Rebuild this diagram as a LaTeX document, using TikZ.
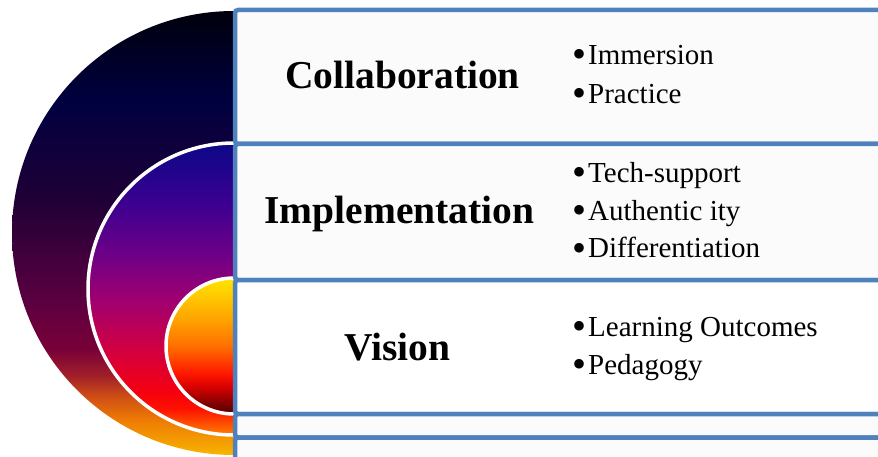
\documentclass[tikz,border=0pt]{standalone}
\usepackage{fontspec}
\setmainfont{Liberation Serif}

% colours of the row frames
\definecolor{rowblue}{HTML}{4F81BD}
\definecolor{rowgray}{HTML}{FBFBFB}

% outer half disc: black-navy at the top, through purple and maroon, to orange
\definecolor{oA}{HTML}{00000C}
\definecolor{oB}{HTML}{000040}
\definecolor{oC}{HTML}{1E0036}
\definecolor{oD}{HTML}{5A0040}
\definecolor{oE}{HTML}{780038}
\definecolor{oF}{HTML}{A01E2A}
\definecolor{oG}{HTML}{D05014}
\definecolor{oH}{HTML}{EE7A04}
\definecolor{oI}{HTML}{F8B400}
\pgfdeclareverticalshading{outerfill}{100bp}{%
  color(0bp)=(oI); color(25bp)=(oI); color(29bp)=(oH); color(31.5bp)=(oG);
  color(34bp)=(oF); color(37bp)=(oE); color(42.5bp)=(oD); color(54bp)=(oC);
  color(65bp)=(oB); color(75bp)=(oA); color(100bp)=(oA)}

% middle half disc: blue, purple, magenta, red, orange
\definecolor{mA}{HTML}{0C0888}
\definecolor{mB}{HTML}{3A0090}
\definecolor{mC}{HTML}{6A0088}
\definecolor{mD}{HTML}{A00070}
\definecolor{mE}{HTML}{D20040}
\definecolor{mF}{HTML}{F40010}
\definecolor{mG}{HTML}{FF1000}
\definecolor{mH}{HTML}{FF8000}
\pgfdeclareverticalshading{middlefill}{100bp}{%
  color(0bp)=(mH); color(25bp)=(mH); color(29.5bp)=(mG); color(32.5bp)=(mF);
  color(39.5bp)=(mE); color(48bp)=(mD); color(56.5bp)=(mC); color(65bp)=(mB);
  color(75bp)=(mA); color(100bp)=(mA)}

% inner half disc: yellow, orange, red, dark red
\definecolor{iA}{HTML}{FFE600}
\definecolor{iB}{HTML}{FFA400}
\definecolor{iC}{HTML}{FF7000}
\definecolor{iD}{HTML}{FF1800}
\definecolor{iE}{HTML}{D80000}
\definecolor{iF}{HTML}{900000}
\definecolor{iG}{HTML}{500000}
\pgfdeclareverticalshading{innerfill}{100bp}{%
  color(0bp)=(iG); color(25bp)=(iG); color(30bp)=(iF); color(35bp)=(iE);
  color(40bp)=(iD); color(50bp)=(iC); color(60bp)=(iB); color(75bp)=(iA);
  color(100bp)=(iA)}

% a larger bullet mark before each list entry, set at mid x-height
\newcommand{\listdot}{\raisebox{-3pt}{\fontsize{40}{40}\selectfont\textbullet}\hspace{2pt}}

\begin{document}
\begin{tikzpicture}[x=1pt,y=1pt,
  rowbox/.style={draw=rowblue, line width=4.5pt, fill=rowgray, rounded corners=3pt},
  ringline/.style={draw=white, line width=3.5pt},
  heading/.style={inner sep=0pt, anchor=base, font=\bfseries\fontsize{39.5}{47}\selectfont},
  item/.style={inner sep=0pt, anchor=base west, font=\fontsize{29}{34}\selectfont}]
\useasboundingbox (0,0) rectangle (878,-457);

% nested half discs
\shade[shading=outerfill] (234,-11) arc[start angle=90, end angle=270, radius=222pt] -- cycle;
\shade[shading=middlefill] (234,-143) arc[start angle=90, end angle=270, radius=146pt] -- cycle;
\draw[ringline] (234,-143) arc[start angle=90, end angle=270, radius=146pt];
\shade[shading=innerfill] (234,-278) arc[start angle=90, end angle=270, radius=68pt] -- cycle;
\draw[ringline] (234,-278) arc[start angle=90, end angle=270, radius=68pt];

% stacked rows
\draw[rowbox] (235,-10) rectangle (900,-144);
\draw[rowbox] (235,-144) rectangle (900,-280);
\draw[rowbox, fill=white] (235,-280) rectangle (900,-414);
\draw[rowbox] (235,-414) rectangle (900,-437.5);
\draw[rowbox] (235,-437.5) rectangle (900,-480);

% headings
\node[heading] (collab) at (402.5,-89) {Collaboration};
\node[heading] (impl) at (399.5,-224) {Implementation};
\node[heading] (vision) at (397.5,-360) {Vision};

% bullet lists
\node[item] (immersion) at (572,-65) {\listdot Immersion};
\node[item] (practice) at (572,-104) {\listdot Practice};
\node[item] (tech) at (572,-183) {\listdot Tech-support};
\node[item] (auth) at (572,-221) {\listdot Authentic ity};
\node[item] (diff) at (572,-258) {\listdot Differentiation};
\node[item] (learn) at (572,-336) {\listdot Learning Outcomes};
\node[item] (peda) at (572,-374) {\listdot Pedagogy};
\end{tikzpicture}
\end{document}
